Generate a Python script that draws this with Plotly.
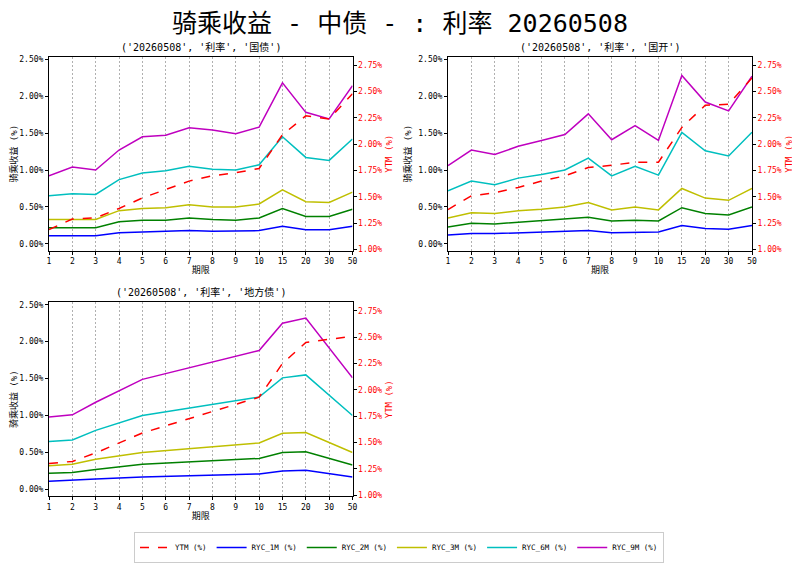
import plotly.graph_objects as go

tenors = ["1", "2", "3", "4", "5", "6", "7", "8", "9", "10", "15", "20", "30", "50"]

# 国债
gz_ytm = [1.19, 1.29, 1.30, 1.39, 1.49, 1.57, 1.65, 1.70, 1.73, 1.77, 2.09, 2.27, 2.24, 2.48]
gz_1m = [0.11, 0.11, 0.11, 0.15, 0.16, 0.17, 0.18, 0.17, 0.17, 0.18, 0.24, 0.19, 0.19, 0.24]
gz_2m = [0.22, 0.22, 0.22, 0.30, 0.32, 0.32, 0.35, 0.33, 0.32, 0.35, 0.48, 0.37, 0.37, 0.47]
gz_3m = [0.33, 0.33, 0.33, 0.45, 0.48, 0.49, 0.53, 0.50, 0.50, 0.54, 0.73, 0.57, 0.56, 0.70]
gz_6m = [0.65, 0.68, 0.67, 0.87, 0.96, 0.99, 1.05, 1.01, 1.00, 1.07, 1.45, 1.17, 1.13, 1.42]
gz_9m = [0.92, 1.04, 1.00, 1.27, 1.45, 1.47, 1.57, 1.54, 1.49, 1.58, 2.18, 1.78, 1.69, 2.14]

# 国开
gk_ytm = [1.38, 1.51, 1.54, 1.59, 1.65, 1.70, 1.78, 1.80, 1.83, 1.83, 2.16, 2.37, 2.38, 2.63]
gk_1m = [0.12, 0.14, 0.14, 0.15, 0.15, 0.17, 0.18, 0.15, 0.16, 0.16, 0.25, 0.21, 0.20, 0.25]
gk_2m = [0.23, 0.28, 0.27, 0.29, 0.31, 0.33, 0.36, 0.31, 0.32, 0.31, 0.49, 0.41, 0.39, 0.50]
gk_3m = [0.35, 0.42, 0.41, 0.45, 0.47, 0.50, 0.56, 0.46, 0.50, 0.46, 0.75, 0.62, 0.59, 0.75]
gk_6m = [0.72, 0.85, 0.80, 0.89, 0.94, 1.00, 1.16, 0.92, 1.05, 0.93, 1.51, 1.26, 1.19, 1.51]
gk_9m = [1.06, 1.27, 1.21, 1.32, 1.40, 1.48, 1.76, 1.41, 1.60, 1.40, 2.28, 1.92, 1.80, 2.27]

# 地方债 (None = no point at that tenor)
df_ytm = [1.30, 1.32, 1.40, None, 1.59, None, None, None, None, 1.93, 2.25, 2.45, None, 2.51]
df_1m = [0.11, 0.12, 0.14, None, 0.17, None, None, None, None, 0.21, 0.25, 0.26, None, 0.17]
df_2m = [0.22, 0.23, 0.27, None, 0.34, None, None, None, None, 0.42, 0.50, 0.51, None, 0.33]
df_3m = [0.32, 0.34, 0.41, None, 0.50, None, None, None, None, 0.63, 0.76, 0.77, None, 0.50]
df_6m = [0.65, 0.67, 0.80, None, 1.00, None, None, None, None, 1.25, 1.51, 1.55, None, 1.00]
df_9m = [0.98, 1.01, 1.18, None, 1.49, None, None, None, None, 1.88, 2.25, 2.32, None, 1.51]

panel_titles = ["('20260508', '利率', '国债')",
                "('20260508', '利率', '国开')",
                "('20260508', '利率', '地方债')"]
series_names = ["YTM (%)", "RYC_1M (%)", "RYC_2M (%)", "RYC_3M (%)", "RYC_6M (%)", "RYC_9M (%)"]
series_colors = ["#ff0000", "#0000ff", "#008000", "#bfbf00", "#00bfbf", "#bf00bf"]

panels = [
    [gz_ytm, gz_1m, gz_2m, gz_3m, gz_6m, gz_9m],
    [gk_ytm, gk_1m, gk_2m, gk_3m, gk_6m, gk_9m],
    [df_ytm, df_1m, df_2m, df_3m, df_6m, df_9m],
]

FONT = "DejaVu Sans Mono, Noto Sans CJK SC"
CJK = "Noto Sans CJK SC"
PAGE_OFF = 8          # page body margin in the browser
W, H = 800 - PAGE_OFF, 563 - PAGE_OFF

def px_x(p):
    return (p - PAGE_OFF) / W

def px_y(p):
    return 1 - (p - PAGE_OFF) / H

# panel pixel boxes in window pixels: (left, right, top, bottom)
boxes = [(49, 352.5, 57, 251), (448, 752, 57, 251), (49, 352.5, 303, 497)]

fig = go.Figure()
layout = {}
annotations = []

for i, (box, data) in enumerate(zip(boxes, panels)):
    l, r, t, b = box
    xname = "x" if i == 0 else f"x{i+1}"
    yl = f"y{2*i+1}" if i > 0 else "y"
    yr = f"y{2*i+2}"
    xkey = "xaxis" if i == 0 else f"xaxis{i+1}"
    ylkey = "yaxis" if i == 0 else f"yaxis{2*i+1}"
    yrkey = f"yaxis{2*i+2}"

    for k in range(1, 6):
        fig.add_trace(go.Scatter(
            x=tenors, y=data[k], mode="lines", name=series_names[k],
            line=dict(color=series_colors[k], width=1.5),
            connectgaps=True, xaxis=xname, yaxis=yl, showlegend=False,
        ))
    fig.add_trace(go.Scatter(
        x=tenors, y=data[0], mode="lines", name=series_names[0],
        line=dict(color=series_colors[0], width=1.5, dash="dash"),
        connectgaps=True, xaxis=xname, yaxis=yr, showlegend=False,
    ))

    layout[xkey] = dict(
        domain=[px_x(l), px_x(r)], anchor=yl, type="category",
        categoryorder="array", categoryarray=tenors,
        range=[0, len(tenors) - 1], automargin=False,
        showgrid=True, griddash="2px,2px", gridcolor="#b0b0b0", gridwidth=1,
        showline=True, linecolor="black", linewidth=1, mirror=True,
        ticks="outside", ticklen=3, tickcolor="black",
        tickfont=dict(family=FONT, size=8, color="black"),
        title=dict(text="期限", font=dict(family=CJK, size=9, color="black"), standoff=1),
        zeroline=False,
    )
    layout[ylkey] = dict(
        domain=[px_y(b), px_y(t)], anchor=xname, automargin=False,
        range=[-0.09, 2.53], tickmode="linear", tick0=0, dtick=0.5,
        tickformat=".2f", ticksuffix="%",
        showgrid=False, zeroline=False,
        showline=True, linecolor="black", linewidth=1,
        ticks="outside", ticklen=3, tickcolor="black",
        tickfont=dict(family=FONT, size=8, color="black"),
        title=dict(text="骑乘收益 (%)", font=dict(family=FONT, size=9, color="black"), standoff=5),
    )
    layout[yrkey] = dict(
        domain=[px_y(b), px_y(t)], anchor=xname, overlaying=yl, side="right",
        automargin=False,
        range=[0.99, 2.83], tickmode="linear", tick0=1.0, dtick=0.25,
        tickformat=".2f", ticksuffix="%",
        showgrid=False, zeroline=False,
        showline=True, linecolor="black", linewidth=1,
        ticks="outside", ticklen=3, tickcolor="black",
        tickfont=dict(family=FONT, size=8, color="red"),
        title=dict(text="YTM (%)", font=dict(family=FONT, size=9, color="red"), standoff=4),
    )
    annotations.append(dict(
        text=panel_titles[i], x=(px_x(l) + px_x(r)) / 2, y=px_y(t - 10),
        xref="paper", yref="paper", xanchor="center", yanchor="middle",
        showarrow=False, font=dict(family=FONT, size=10, color="black"),
    ))

for k in range(6):
    fig.add_trace(go.Scatter(
        x=[None], y=[None], mode="lines", name=series_names[k],
        line=dict(color=series_colors[k], width=1.5, dash="dash" if k == 0 else "solid"),
        showlegend=True, xaxis="x", yaxis="y",
    ))

fig.update_layout(
    width=W, height=H,
    margin=dict(l=0, r=0, t=0, b=0),
    paper_bgcolor="white", plot_bgcolor="white",
    title=dict(text="骑乘收益 - 中债 - : 利率 20260508", x=px_x(400), xanchor="center",
               y=px_y(23), yanchor="middle",
               font=dict(family=FONT, size=25, color="black")),
    legend=dict(orientation="h", x=px_x(399), xanchor="center", y=px_y(548), yanchor="middle",
                bordercolor="#cccccc", borderwidth=1, bgcolor="white",
                font=dict(family=FONT, size=7.5, color="black"),
                itemwidth=30, tracegroupgap=0),
    annotations=annotations,
    showlegend=True,
    **layout,
)

fig.write_html("out.html")
